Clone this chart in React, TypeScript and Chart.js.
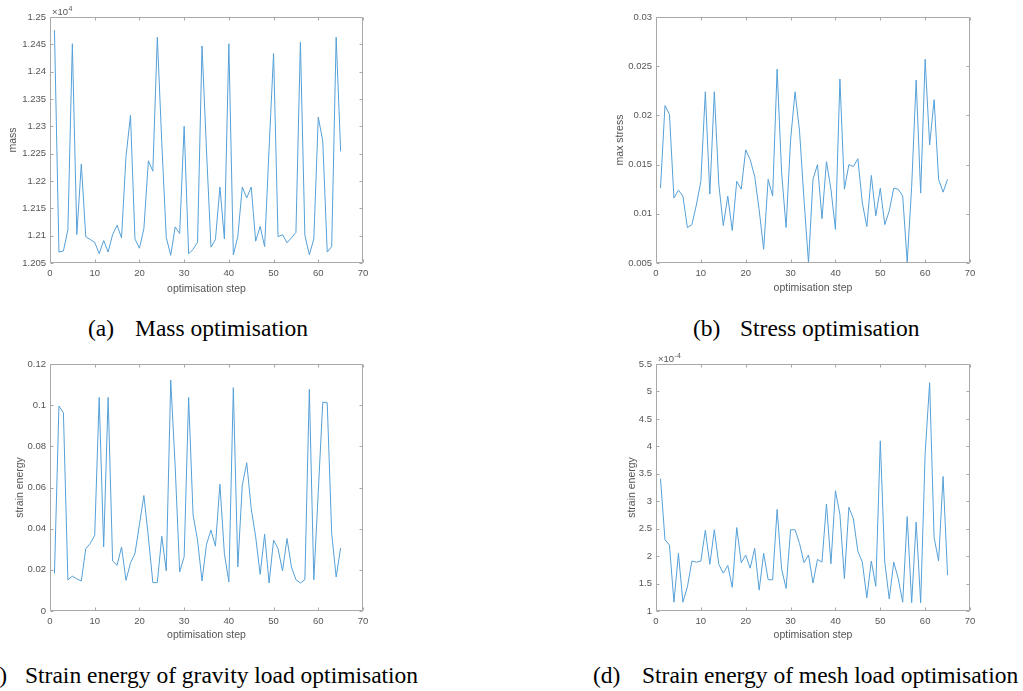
import React, { useEffect, useRef } from 'react';
import { Chart, registerables } from 'chart.js';

Chart.register(...registerables);

// ---------- data ----------
const steps = [
  1, 2, 3, 4, 5, 6, 7, 8, 9, 10, 11, 12, 13, 14, 15, 16, 17, 18, 19, 20,
  21, 22, 23, 24, 25, 26, 27, 28, 29, 30, 31, 32, 33, 34, 35, 36, 37, 38, 39, 40,
  41, 42, 43, 44, 45, 46, 47, 48, 49, 50, 51, 52, 53, 54, 55, 56, 57, 58, 59, 60,
  61, 62, 63, 64, 65,
];

const massValues = [
  12476, 12070, 12072, 12111, 12451, 12102, 12231, 12098, 12093, 12088,
  12067, 12091, 12070, 12102, 12119, 12096, 12245, 12320, 12094, 12077,
  12113, 12237, 12218, 12463, 12270, 12097, 12064, 12116, 12104, 12300,
  12067, 12075, 12088, 12447, 12255, 12079, 12093, 12189, 12094, 12451,
  12065, 12098, 12189, 12169, 12189, 12090, 12117, 12080, 12260, 12433,
  12098, 12102, 12087, 12096, 12106, 12454, 12101, 12065, 12094, 12317,
  12273, 12070, 12080, 12463, 12254,
];

const stressValues = [
  0.0126, 0.021, 0.0201, 0.0116, 0.0124, 0.0118, 0.0086, 0.0089, 0.0109, 0.0133,
  0.0224, 0.012, 0.0224, 0.013, 0.0088, 0.0118, 0.0083, 0.0133, 0.0125, 0.0165,
  0.0155, 0.0138, 0.0104, 0.0064, 0.0135, 0.0118, 0.0247, 0.0142, 0.0086, 0.0175,
  0.0224, 0.0184, 0.0114, 0.005, 0.0135, 0.015, 0.0095, 0.0153, 0.0125, 0.0084,
  0.0237, 0.0125, 0.015, 0.0148, 0.0156, 0.0111, 0.0087, 0.0139, 0.0098, 0.0126,
  0.0089, 0.0103, 0.0126, 0.0125, 0.0118, 0.0051, 0.0128, 0.0236, 0.0121, 0.0257,
  0.017, 0.0216, 0.0135, 0.0122, 0.0135,
];

const gravityStrainValues = [
  0.0182, 0.0996, 0.0963, 0.0152, 0.0169, 0.0156, 0.0146, 0.0303, 0.0328, 0.0368,
  0.1038, 0.0311, 0.1038, 0.0243, 0.0222, 0.0311, 0.0149, 0.0234, 0.0279, 0.042,
  0.0561, 0.036, 0.0138, 0.0138, 0.0363, 0.0195, 0.1122, 0.07, 0.019, 0.0263,
  0.1038, 0.0466, 0.0344, 0.0146, 0.0324, 0.0393, 0.0315, 0.0616, 0.0279, 0.0141,
  0.1085, 0.0214, 0.0611, 0.072, 0.0498, 0.036, 0.0178, 0.0373, 0.0136, 0.0344,
  0.0303, 0.0195, 0.0352, 0.0214, 0.0152, 0.0136, 0.0152, 0.1077, 0.0152, 0.058,
  0.1015, 0.1012, 0.0376, 0.0165, 0.0307,
];

const meshStrainValues = [
  3.41e-4, 2.3e-4, 2.2e-4, 1.16e-4, 2.05e-4, 1.16e-4, 1.44e-4, 1.91e-4, 1.89e-4, 1.91e-4,
  2.47e-4, 1.85e-4, 2.48e-4, 1.85e-4, 1.69e-4, 1.83e-4, 1.43e-4, 2.52e-4, 1.88e-4, 2.02e-4,
  1.78e-4, 2.14e-4, 1.38e-4, 2.05e-4, 1.57e-4, 1.57e-4, 2.85e-4, 1.77e-4, 1.41e-4, 2.48e-4,
  2.48e-4, 2.23e-4, 1.88e-4, 2.02e-4, 1.51e-4, 1.94e-4, 1.89e-4, 2.95e-4, 1.86e-4, 3.19e-4,
  2.76e-4, 1.59e-4, 2.89e-4, 2.68e-4, 2.09e-4, 1.89e-4, 1.24e-4, 1.91e-4, 1.45e-4, 4.1e-4,
  1.89e-4, 1.22e-4, 1.89e-4, 1.59e-4, 1.16e-4, 2.72e-4, 1.15e-4, 2.62e-4, 1.15e-4, 3.87e-4,
  5.16e-4, 2.34e-4, 1.91e-4, 3.45e-4, 1.65e-4,
];

const xTitle = 'optimisation step';

// ---------- styles ----------
const AXIS_COLOR = '#a9a9a9';
const TEXT_COLOR = '#555555';
const LINE_COLOR = '#55a0d8';
const SANS = '"Liberation Sans", Arial, Helvetica, sans-serif';
const SERIF = '"Liberation Serif", "Times New Roman", serif';

const matlabBox = {
  id: 'matlabBox',
  afterDatasetsDraw(chart: any, _args: any, opts: any) {
    const { ctx, chartArea } = chart;
    const { left, top, right, bottom } = chartArea;
    const xs = chart.scales.x;
    const ys = chart.scales.y;
    ctx.save();
    ctx.strokeStyle = AXIS_COLOR;
    ctx.lineWidth = 1;
    const L = Math.round(left) + 0.5;
    const R = Math.round(right) - 0.5;
    const T = Math.round(top) + 0.5;
    const B = Math.round(bottom) - 0.5;
    ctx.beginPath();
    ctx.rect(L, T, R - L, B - T);
    const tl = 3;
    xs.ticks.forEach((t: any) => {
      const px = Math.round(xs.getPixelForValue(t.value)) + 0.5;
      ctx.moveTo(px, B);
      ctx.lineTo(px, B - tl);
      ctx.moveTo(px, T);
      ctx.lineTo(px, T + tl);
    });
    ys.ticks.forEach((t: any) => {
      const py = Math.round(ys.getPixelForValue(t.value)) + 0.5;
      ctx.moveTo(L, py);
      ctx.lineTo(L + tl, py);
      ctx.moveTo(R, py);
      ctx.lineTo(R - tl, py);
    });
    ctx.stroke();
    if (opts && opts.exponent) {
      ctx.fillStyle = TEXT_COLOR;
      ctx.textBaseline = 'alphabetic';
      ctx.textAlign = 'left';
      ctx.font = `9.5px ${SANS}`;
      const base = '\u00d710';
      ctx.fillText(base, left + 2, top - 2);
      const w = ctx.measureText(base).width;
      ctx.font = `7px ${SANS}`;
      ctx.fillText(opts.exponent, left + 2 + w + 0.5, top - 6);
    }
    ctx.restore();
  },
};

type PanelCfg = {
  values: number[];
  yMin: number;
  yMax: number;
  yStep: number;
  yTitle: string;
  fmt: (v: number) => string;
  exponent?: string;
  canvas: { left: number; top: number; w: number; h: number };
  plot: { L: number; T: number; R: number; B: number };
  yTitleCenter: number;
  xTitleCenter: number;
};

const TICK_SIZE = 9.5;
const TITLE_SIZE = 10.5;

function PanelChart({ cfg }: { cfg: PanelCfg }) {
  const ref = useRef<HTMLCanvasElement>(null);
  useEffect(() => {
    const { canvas, plot } = cfg;
    const yW = plot.L - canvas.left;
    const xH = canvas.top + canvas.h - plot.B;
    const titleLH = TITLE_SIZE * 1.2;
    const yPad = cfg.yTitleCenter - canvas.left - titleLH / 2;
    const xPad = canvas.top + canvas.h - cfg.xTitleCenter - titleLH / 2;
    const chart = new Chart(ref.current as HTMLCanvasElement, {
      type: 'line',
      data: {
        datasets: [
          {
            data: steps.map((s, i) => ({ x: s, y: cfg.values[i] })),
            borderColor: LINE_COLOR,
            borderWidth: 1,
            pointRadius: 0,
            tension: 0,
            fill: false,
          },
        ],
      },
      options: {
        animation: false,
        responsive: false,
        devicePixelRatio: 1,
        layout: {
          padding: {
            left: 0,
            top: plot.T - canvas.top,
            right: canvas.left + canvas.w - plot.R,
            bottom: 0,
          },
        },
        plugins: {
          legend: { display: false },
          tooltip: { enabled: false },
          // @ts-ignore
          matlabBox: { exponent: cfg.exponent },
        },
        scales: {
          x: {
            type: 'linear',
            min: 0,
            max: 70,
            ticks: {
              stepSize: 10,
              color: TEXT_COLOR,
              font: { family: SANS, size: TICK_SIZE },
              padding: 5,
              maxRotation: 0,
            },
            grid: { display: false, drawTicks: false },
            border: { display: false },
            title: {
              display: true,
              text: xTitle,
              color: TEXT_COLOR,
              font: { family: SANS, size: TITLE_SIZE },
              padding: { top: 0, bottom: xPad },
            },
            afterFit: (s: any) => {
              s.height = xH;
            },
          },
          y: {
            type: 'linear',
            min: cfg.yMin,
            max: cfg.yMax,
            ticks: {
              stepSize: cfg.yStep,
              color: TEXT_COLOR,
              font: { family: SANS, size: TICK_SIZE },
              padding: 4,
              callback: (v: any) => cfg.fmt(Number(v)),
            },
            grid: { display: false, drawTicks: false },
            border: { display: false },
            title: {
              display: true,
              text: cfg.yTitle,
              color: TEXT_COLOR,
              font: { family: SANS, size: TITLE_SIZE },
              padding: { top: yPad, bottom: 0 },
            },
            afterFit: (s: any) => {
              s.width = yW;
            },
          },
        },
      } as any,
      plugins: [matlabBox as any],
    });
    return () => chart.destroy();
  }, []);
  const { canvas } = cfg;
  return (
    <canvas
      ref={ref}
      width={canvas.w}
      height={canvas.h}
      style={{ position: 'absolute', left: canvas.left, top: canvas.top, width: canvas.w, height: canvas.h }}
    />
  );
}

const trim = (v: number, d: number) => String(parseFloat(v.toFixed(d)));

const panels: PanelCfg[] = [
  {
    values: massValues,
    yMin: 12050,
    yMax: 12500,
    yStep: 50,
    yTitle: 'mass',
    fmt: (v) => trim(v / 1e4, 4),
    exponent: '4',
    canvas: { left: 0, top: 0, w: 400, h: 300 },
    plot: { L: 50, T: 17, R: 363, B: 263 },
    yTitleCenter: 13,
    xTitleCenter: 289,
  },
  {
    values: stressValues,
    yMin: 0.005,
    yMax: 0.03,
    yStep: 0.005,
    yTitle: 'max stress',
    fmt: (v) => trim(v, 4),
    canvas: { left: 600, top: 0, w: 400, h: 300 },
    plot: { L: 656, T: 17, R: 970, B: 263 },
    yTitleCenter: 620,
    xTitleCenter: 288,
  },
  {
    values: gravityStrainValues,
    yMin: 0,
    yMax: 0.12,
    yStep: 0.02,
    yTitle: 'strain energy',
    fmt: (v) => trim(v, 3),
    canvas: { left: 0, top: 345, w: 400, h: 300 },
    plot: { L: 50, T: 364, R: 363, B: 611 },
    yTitleCenter: 20,
    xTitleCenter: 635,
  },
  {
    values: meshStrainValues,
    yMin: 1e-4,
    yMax: 5.5e-4,
    yStep: 5e-5,
    yTitle: 'strain energy',
    fmt: (v) => trim(v * 1e4, 2),
    exponent: '-4',
    canvas: { left: 600, top: 345, w: 400, h: 300 },
    plot: { L: 656, T: 364, R: 970, B: 611 },
    yTitleCenter: 632,
    xTitleCenter: 635,
  },
];

const captions = [
  { text: '(a)', left: 88, cy: 330 },
  { text: 'Mass optimisation', left: 135, cy: 330 },
  { text: '(b)', left: 693, cy: 330 },
  { text: 'Stress optimisation', left: 740, cy: 330 },
  { text: '(c)', left: -19, cy: 677 },
  { text: 'Strain energy of gravity load optimisation', left: 25, cy: 677 },
  { text: '(d)', left: 593, cy: 677 },
  { text: 'Strain energy of mesh load optimisation', left: 642, cy: 677 },
];

const CAPTION_SIZE = 23.5;

export default function App() {
  return (
    <div
      style={{
        position: 'fixed',
        left: 0,
        top: 0,
        width: 1023,
        height: 691,
        background: '#ffffff',
        overflow: 'hidden',
      }}
    >
      {panels.map((p, i) => (
        <PanelChart key={i} cfg={p} />
      ))}
      {captions.map((c, i) => (
        <div
          key={'c' + i}
          style={{
            position: 'absolute',
            left: c.left,
            top: c.cy - CAPTION_SIZE / 2 - 1,
            fontFamily: SERIF,
            fontSize: CAPTION_SIZE,
            lineHeight: `${CAPTION_SIZE}px`,
            whiteSpace: 'nowrap',
            color: '#000',
          }}
        >
          {c.text}
        </div>
      ))}
    </div>
  );
}
